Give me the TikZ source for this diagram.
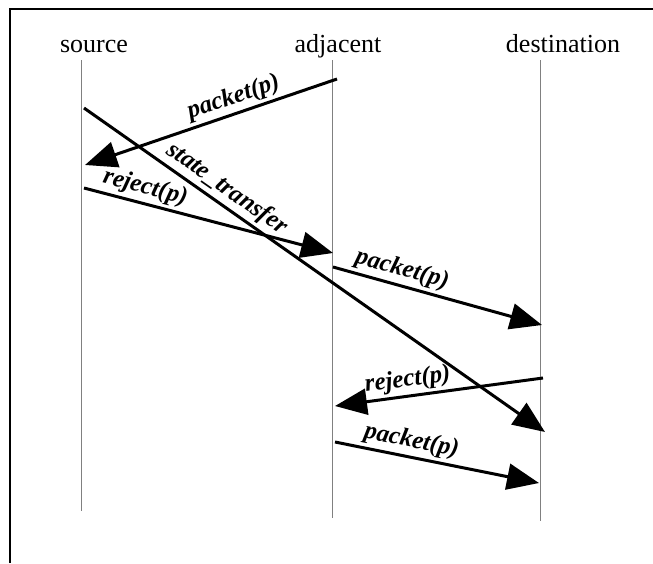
\documentclass[tikz,border=0pt]{standalone}
\usepackage{fontspec}
\setmainfont{Liberation Serif}
\usetikzlibrary{arrows.meta,positioning}

\begin{document}
\begin{tikzpicture}[
    x=0.5pt, y=-0.5pt,
    lifeline/.style={draw=gray, line width=0.5pt},
    head/.style={anchor=base, inner sep=0pt, font=\fontsize{13}{15}\selectfont},
    msg/.style={-{Triangle[length=16pt, width=13pt]}, line width=1.5pt},
    msglabel/.style={sloped, above, inner sep=1.5pt, font=\fontsize{12.5}{14}\selectfont\bfseries\itshape}
]

\useasboundingbox (0,0) rectangle (653,563);
\draw[line width=1.3pt] (10,563) -- (10,9) -- (653,9);

% heads and lifelines
\node[head] (source) at (94,52) {source};
\node[head] (adjacent) at (338,52) {adjacent};
\node[head] (destination) at (563,52) {destination};

\coordinate (src top) at (81,60);
\coordinate (src bot) at (81,511);
\coordinate (adj top) at (332,60);
\coordinate (adj bot) at (332,518);
\coordinate (dst top) at (540,60);
\coordinate (dst bot) at (540,521);

\draw[lifeline] (src top) -- (src bot);
\draw[lifeline] (adj top) -- (adj bot);
\draw[lifeline] (dst top) -- (dst bot);

% message ends
\coordinate (adj1) at (337,79);
\coordinate (src1) at (85,165);
\coordinate (src2) at (84,108);
\coordinate (dst2) at (545,432);
\coordinate (src3) at (84,188);
\coordinate (adj3) at (333,253);
\coordinate (adj4) at (333,267);
\coordinate (dst4) at (542,325);
\coordinate (dst5) at (543,378);
\coordinate (adj5) at (335,406);
\coordinate (adj6) at (335,442);
\coordinate (dst6) at (539,483);

\draw[msg] (adj1) -- node[msglabel, pos=0.39] {packet(p)} (src1);
\draw[msg] (src2) -- node[msglabel, pos=0.29] {state\_transfer} (dst2);
\draw[msg] (src3) -- node[msglabel, pos=0.23] {reject(p)} (adj3);
\draw[msg] (adj4) -- node[msglabel, pos=0.31] {packet(p)} (dst4);
\draw[msg] (dst5) -- node[msglabel, pos=0.64] {reject(p)} (adj5);
\draw[msg] (adj6) -- node[msglabel, pos=0.36] {packet(p)} (dst6);

\end{tikzpicture}
\end{document}
